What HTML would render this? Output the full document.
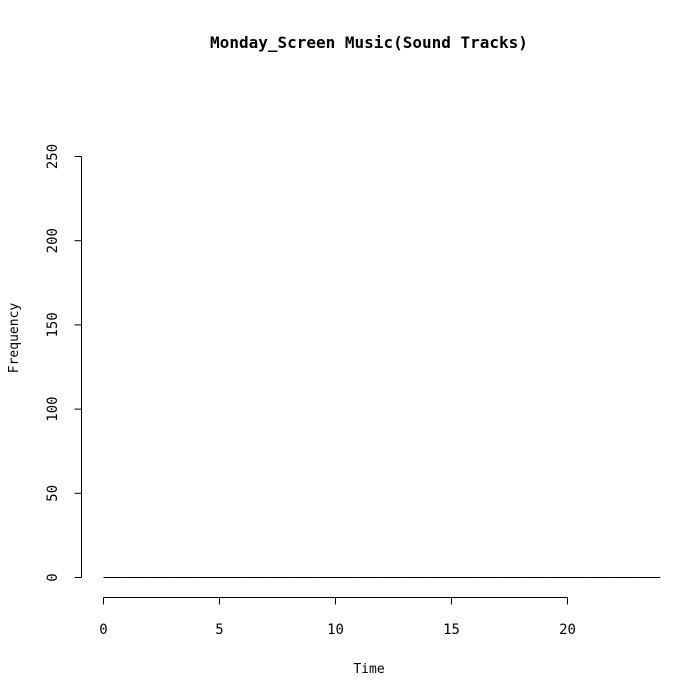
<!DOCTYPE html>
<html><head><meta charset="utf-8"><style>
html,body{margin:0;padding:0;background:#fff;}
svg{display:block;font-family:"DejaVu Sans Mono","Liberation Mono",monospace;}
</style></head><body>
<svg id="chart" width="699" height="699" viewBox="0 0 699 699">
<text x="369" y="48" text-anchor="middle" font-size="16" font-weight="bold">Monday_Screen Music(Sound Tracks)</text>
<text x="369" y="673" text-anchor="middle" font-size="13">Time</text>
<text transform="translate(18,338) rotate(-90)" text-anchor="middle" font-size="13">Frequency</text>
<g id="xaxis"></g>
<g id="yaxis"></g>
<g id="bars"></g>
</svg>
<script>
const breaks = [0,1,2,3,4,5,6,7,8,9,10,11,12,13,14,15,16,17,18,19,20,21,22,23,24];
const counts = [0,0,0,0,0,0,0,0,0,0,0,0,0,0,0,0,0,0,0,0,0,0,0,0];
const xTicks = [0,5,10,15,20];
const yTicks = [0,50,100,150,200,250];
const NS="http://www.w3.org/2000/svg";
const sx = v => 103.5 + v*(567-103)/20;
const sy = v => 577.5 - v*(577-156)/250;
function mk(tag, attrs, parent){const e=document.createElementNS(NS,tag);for(const k in attrs)e.setAttribute(k,attrs[k]);parent.appendChild(e);return e;}
const xa=document.getElementById('xaxis'), ya=document.getElementById('yaxis'), bg=document.getElementById('bars');
let l=mk('line',{x1:sx(xTicks[0]),x2:sx(xTicks[xTicks.length-1]),y1:597.5,y2:597.5,stroke:'#000'},xa);


xTicks.forEach(t=>{
  const tk=mk('line',{x1:sx(t),x2:sx(t),y1:597.5,y2:604.5,stroke:'#000'},xa);
  
  
  const tx=mk('text',{x:sx(t),y:634,'text-anchor':'middle','font-size':14},xa);
  tx.textContent=t;
  
  
});
l=mk('line',{x1:81.5,x2:81.5,y1:sy(yTicks[0]),y2:sy(yTicks[yTicks.length-1]),stroke:'#000'},ya);


yTicks.forEach(t=>{
  const tk=mk('line',{x1:74.5,x2:81.5,y1:sy(t),y2:sy(t),stroke:'#000'},ya);
  
  
  const tx=mk('text',{transform:`translate(57,${sy(t)}) rotate(-90)`,'text-anchor':'middle','font-size':14},ya);
  tx.textContent=t;
  
  
});
counts.forEach((c,i)=>{
  const x0=sx(breaks[i]), x1=sx(breaks[i+1]), y=sy(c), y0=sy(0);
  const p=mk('path',{d:`M${x0},${y0} V${y} H${x1} V${y0}`,fill:'none',stroke:'#000','stroke-width':1},bg);
  
  
});
</script>
</body></html>
